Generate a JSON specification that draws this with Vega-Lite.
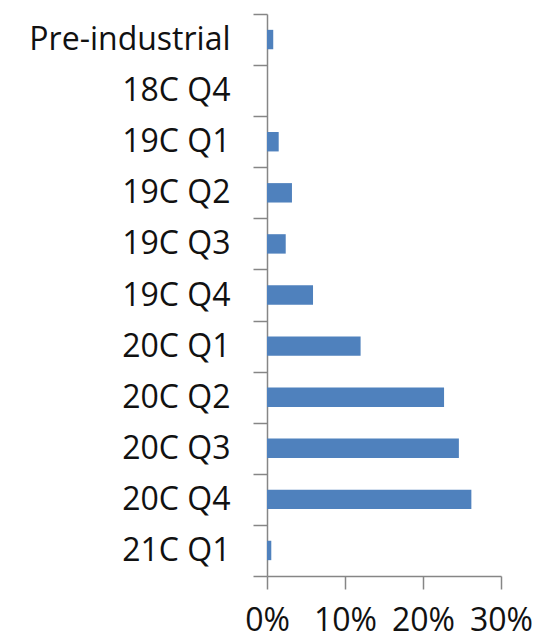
{
  "$schema": "https://vega.github.io/schema/vega-lite/v6.json",
  "autosize": {"type": "none"},
  "padding": {"left": 267, "top": 14, "right": 48, "bottom": 63},
  "width": 234,
  "height": 562,
  "background": "white",
  "config": {"view": {"stroke": null}},
  "data": {
    "values": [
      {"period": "Pre-industrial", "share": 0.008},
      {"period": "18C Q4", "share": 0.0},
      {"period": "19C Q1", "share": 0.015},
      {"period": "19C Q2", "share": 0.032},
      {"period": "19C Q3", "share": 0.024},
      {"period": "19C Q4", "share": 0.059},
      {"period": "20C Q1", "share": 0.120},
      {"period": "20C Q2", "share": 0.227},
      {"period": "20C Q3", "share": 0.246},
      {"period": "20C Q4", "share": 0.262},
      {"period": "21C Q1", "share": 0.0055}
    ]
  },
  "mark": {"type": "bar", "color": "#4F81BD", "height": {"band": 0.38}},
  "encoding": {
    "y": {
      "field": "period",
      "type": "nominal",
      "sort": null,
      "scale": {"paddingInner": 0, "paddingOuter": 0},
      "axis": {
        "title": null,
        "tickBand": "extent",
        "tickSize": 14,
        "tickColor": "#868686",
        "tickWidth": 1.5,
        "domainColor": "#868686",
        "domainWidth": 1.5,
        "labelPadding": 23,
        "labelFont": "Open Sans",
        "labelFontSize": 32,
        "labelColor": "#111111",
        "labelLimit": 300
      }
    },
    "x": {
      "field": "share",
      "type": "quantitative",
      "scale": {"domain": [0, 0.3], "nice": false},
      "axis": {
        "title": null,
        "values": [0, 0.1, 0.2, 0.3],
        "format": ".0%",
        "grid": false,
        "tickSize": 13,
        "tickColor": "#868686",
        "tickWidth": 1.5,
        "domainColor": "#868686",
        "domainWidth": 1.5,
        "labelPadding": 16,
        "labelFont": "Open Sans",
        "labelFontSize": 32,
        "labelColor": "#111111",
        "labelFlush": false,
        "labelOverlap": false
      }
    }
  }
}
